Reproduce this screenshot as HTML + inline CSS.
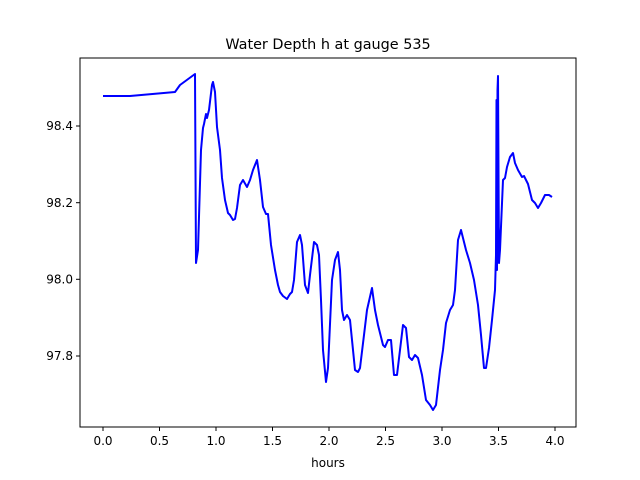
<!DOCTYPE html>
<html><head><style>body{margin:0;background:#fff}svg{display:block}</style></head><body>
<svg width="640" height="480" viewBox="0 0 640 480" xmlns="http://www.w3.org/2000/svg" font-family="'DejaVu Sans', sans-serif">
<rect x="80" y="58" width="496" height="369" fill="#fff" stroke="#000" stroke-width="1"/>
<polyline fill="none" stroke="#0000ff" stroke-width="2" stroke-linejoin="round" points="103,96 130,96 175,92 180,85 195,74 196,263 198,250 201,150 203,128 204,124 206,114 207,118 209,110 212,85 213,82 215,92 217,127 220,150 222,178 225,200 228,213 230,215 233,220 235,219 237,208 240,185 243,180 247,187 250,180 253,170 257,160 260,180 263,207 266,214 268,214 271,245 275,270 278,285 280,292 283,296 287,299 290,294 292,292 294,280 297,242 300,235 302,245 305,285 308,293 310,275 314,242 317,245 319,255 321,300 323,350 326,382 328,368 332,280 335,260 338,252 340,270 342,310 344,320 347,315 350,320 352,340 355,370 358,372 360,368 364,335 367,310 372,288 375,310 378,325 383,345 385,347 388,340 391,340 394,375 397,375 400,350 403,325 406,328 409,357 412,360 415,355 418,358 422,375 426,400 430,405 433,410 436,405 440,370 443,350 446,323 450,310 453,305 455,290 458,240 461,230 463,238 466,250 470,263 474,280 478,305 481,335 484,368 486,368 489,348 492,320 495,290 496,255 496.5,100 497,270 497.5,90 498,76 499,263 500,250 503,180 505,178 507,167 510,157 513,153 515,163 518,170 522,177 524,176 528,184 532,200 535,203 538,208 541,203 545,195 549,195 552,197"/>
<g stroke="#000" stroke-width="1">
<line x1="103" y1="427" x2="103" y2="431"/><line x1="159.5" y1="427" x2="159.5" y2="431"/><line x1="216" y1="427" x2="216" y2="431"/><line x1="272.5" y1="427" x2="272.5" y2="431"/><line x1="329" y1="427" x2="329" y2="431"/><line x1="385.5" y1="427" x2="385.5" y2="431"/><line x1="442" y1="427" x2="442" y2="431"/><line x1="498.5" y1="427" x2="498.5" y2="431"/><line x1="555" y1="427" x2="555" y2="431"/>
<line x1="76" y1="126" x2="80" y2="126"/><line x1="76" y1="202.7" x2="80" y2="202.7"/><line x1="76" y1="279.3" x2="80" y2="279.3"/><line x1="76" y1="356" x2="80" y2="356"/>
</g>
<g font-size="12" fill="#000" text-anchor="middle">
<text x="103" y="445">0.0</text><text x="159.5" y="445">0.5</text><text x="216" y="445">1.0</text><text x="272.5" y="445">1.5</text><text x="329" y="445">2.0</text><text x="385.5" y="445">2.5</text><text x="442" y="445">3.0</text><text x="498.5" y="445">3.5</text><text x="555" y="445">4.0</text>
<text x="328" y="467">hours</text>
</g>
<g font-size="12" fill="#000" text-anchor="end">
<text x="73" y="130">98.4</text><text x="73" y="207">98.2</text><text x="73" y="283.5">98.0</text><text x="73" y="360">97.8</text>
</g>
<text x="328" y="49" font-size="14.4" text-anchor="middle">Water Depth h at gauge 535</text>
</svg>
</body></html>
